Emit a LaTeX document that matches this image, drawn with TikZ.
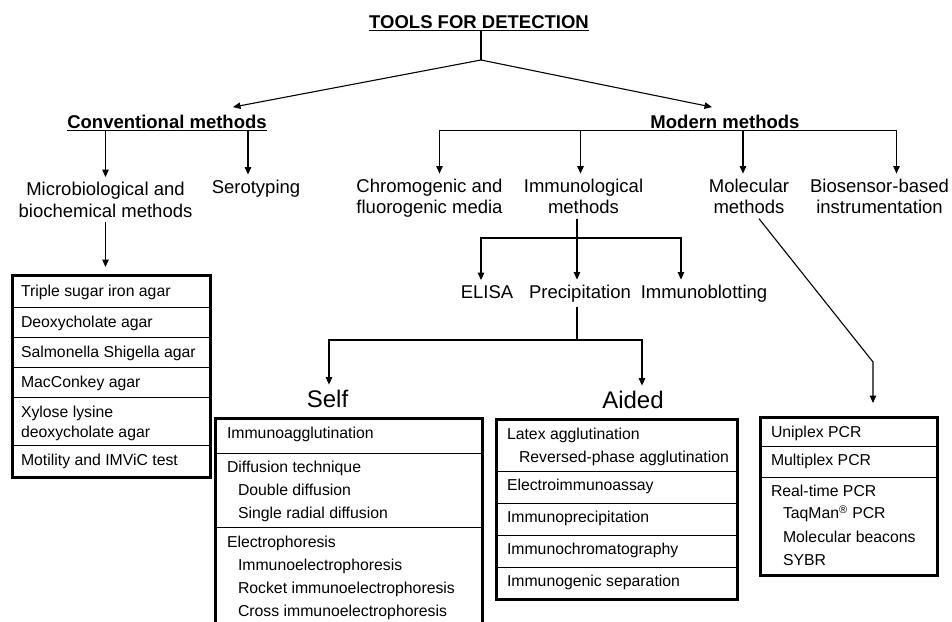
\documentclass[tikz,border=0pt]{standalone}
\usepackage{fontspec}
\setmainfont{Liberation Sans}
\usetikzlibrary{arrows.meta}
\begin{document}
\begin{tikzpicture}[x=1pt,y=-1pt,
  every node/.style={inner sep=0pt, outer sep=0pt},
  hd/.style={font=\fontsize{18.5}{21.5}\selectfont\bfseries, inner xsep=0pt, inner ysep=2.5pt, anchor=base},
  lbl/.style={font=\fontsize{18.5}{21.5}\selectfont, align=center, inner xsep=0pt, inner ysep=5pt, anchor=base},
  big/.style={font=\fontsize{24}{28}\selectfont, inner ysep=5pt, anchor=base},
  itm/.style={font=\fontsize{15.8}{20}\selectfont, anchor=base west, align=left},
  bbox/.style={draw, line width=3pt, anchor=north west},
  sep/.style={line width=0.9pt},
  con/.style={line width=1.1pt},
  arr/.style={con, -{Triangle[length=7.5pt,width=6.5pt]}},
]
\useasboundingbox (0,0) rectangle (952,621);
\clip (0,0) rectangle (952,621);
\fill[white] (0,0) rectangle (952,621);

% title and first split
\node[hd] (title) at (479,28) {TOOLS FOR DETECTION};
\draw[con] (title.south west) -- (title.south east);
\coordinate (split) at (481,60);
\draw[con] (title.south -| split) -- (split);
\node[hd] (conv) at (167,128) {Conventional methods};
\draw[con] (conv.south west) -- (conv.south east);
\node[hd] (modern) at (725,128) {Modern methods};
\draw[arr] (split) -- ([xshift=66pt,yshift=5pt]conv.north);
\draw[arr] (split) -- ([xshift=-13pt,yshift=5pt]modern.north);

% level 2 (base anchor = baseline of the last line)
\node[lbl] (micro) at (105.5,217) {Microbiological and\\biochemical methods};
\node[lbl] (sero) at (256,193) {Serotyping};
\node[lbl] (chromo) at (429.5,213.5) {Chromogenic and\\fluorogenic media};
\node[lbl] (immuno) at (583.5,213.5) {Immunological\\methods};
\node[lbl] (mol) at (749,213.5) {Molecular\\methods};
\node[lbl] (bio) at (879.5,213.5) {Biosensor-based\\instrumentation};

\draw[arr] (conv.south -| micro.north) -- (micro.north);
\draw[arr] ([xshift=-8pt]sero.north |- conv.south) -- ([xshift=-8pt]sero.north);
\draw[arr] (modern.south) -| ([xshift=10pt]chromo.north);
\draw[arr] (modern.south) -| ([xshift=-3pt]immuno.north);
\draw[arr] (modern.south) -| ([xshift=-6pt]mol.north);
\draw[arr] (modern.south) -| ([xshift=17pt]bio.north);

% level 3 (immunological)
\coordinate (ibus) at (577,238);
\draw[con] (ibus |- immuno.south) -- (ibus);
\node[lbl] (elisa) at (487,298) {ELISA};
\node[lbl] (precip) at (580,298) {Precipitation};
\node[lbl] (blot) at (704,298) {Immunoblotting};
\draw[arr] (ibus) -| ([xshift=-6pt]elisa.north);
\draw[arr] (ibus) -- (ibus |- precip.north);
\draw[arr] (ibus) -| ([xshift=-23pt]blot.north);

% precipitation split
\coordinate (pbus) at (577,340);
\draw[con] (pbus |- precip.south) -- (pbus);
\node[big] (self) at (327.5,407) {Self};
\node[big] (aided) at (633,408) {Aided};
\draw[arr] (pbus) -| ([xshift=1.5pt]self.north);
\draw[arr] (pbus) -| ([xshift=9pt]aided.north);

% microbiological box
\node[bbox, minimum width=198pt, minimum height=202pt] (mbox) at (12,275) {};
\draw[arr] (micro.south) -- ([yshift=8pt]mbox.north -| micro.south);
\foreach \yy in {307,337,367,397,445} \draw[sep] (mbox.west |- 0,\yy) -- (mbox.east |- 0,\yy);
\node[itm] (m1) at (21,296.5) {Triple sugar iron agar};
\node[itm] (m2) at (21,327.5) {Deoxycholate agar};
\node[itm] (m3) at (21,357.5) {Salmonella Shigella agar};
\node[itm] (m4) at (21,387.5) {MacConkey agar};
\node[itm] (m5) at (21,437.5) {Xylose lysine\\deoxycholate agar};
\node[itm] (m6) at (21,465.5) {Motility and IMViC test};

% self box
\node[bbox, minimum width=267pt, minimum height=240pt] (sbox) at (215,418) {};
\foreach \yy in {453,527} \draw[sep] (sbox.west |- 0,\yy) -- (sbox.east |- 0,\yy);
\node[itm] (s1) at (227,438.5) {Immunoagglutination};
\node[itm] (s2) at (227,472.5) {Diffusion technique};
\node[itm] (s3) at (238,495.5) {Double diffusion};
\node[itm] (s4) at (238,518.5) {Single radial diffusion};
\node[itm] (s5) at (227,547.5) {Electrophoresis};
\node[itm] (s6) at (238,570.5) {Immunoelectrophoresis};
\node[itm] (s7) at (238,593.5) {Rocket immunoelectrophoresis};
\node[itm] (s8) at (238,616.5) {Cross immunoelectrophoresis};

% aided box
\node[bbox, minimum width=241pt, minimum height=180pt] (abox) at (496,419) {};
\foreach \yy in {471,503,535,567} \draw[sep] (abox.west |- 0,\yy) -- (abox.east |- 0,\yy);
\node[itm] (a1) at (507,439.5) {Latex agglutination};
\node[itm] (a2) at (519,462.5) {Reversed-phase agglutination};
\node[itm] (a3) at (507,490.5) {Electroimmunoassay};
\node[itm] (a4) at (507,522.5) {Immunoprecipitation};
\node[itm] (a5) at (507,554.5) {Immunochromatography};
\node[itm] (a6) at (507,586.5) {Immunogenic separation};

% PCR box
\node[bbox, minimum width=177pt, minimum height=158pt] (pcr) at (760,417) {};
\coordinate (mbend) at (873,362);
\draw[arr] ([xshift=10pt]mol.south) -- (mbend) -- ([yshift=14pt]pcr.north -| mbend);
\foreach \yy in {446,477} \draw[sep] (pcr.west |- 0,\yy) -- (pcr.east |- 0,\yy);
\node[itm] (p1) at (771,437.5) {Uniplex PCR};
\node[itm] (p2) at (771,465.5) {Multiplex PCR};
\node[itm] (p3) at (771,496.5) {Real-time PCR};
\node[itm] (p4) at (783,518.5) {TaqMan\textsuperscript{®} PCR};
\node[itm] (p5) at (783,542.5) {Molecular beacons};
\node[itm] (p6) at (783,565.5) {SYBR};
\end{tikzpicture}
\end{document}
